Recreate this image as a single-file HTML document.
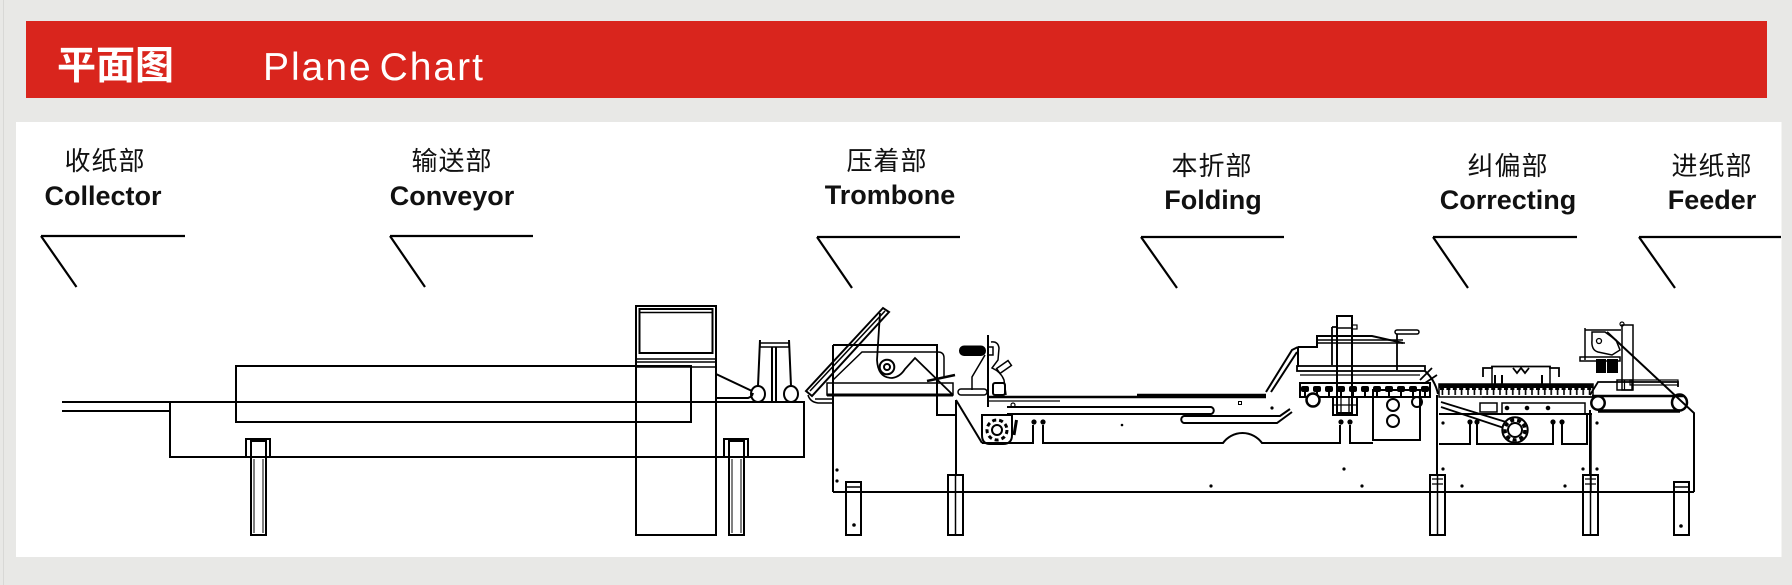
<!DOCTYPE html>
<html><head><meta charset="utf-8"><style>
html,body{margin:0;padding:0;background:#e8e8e6;}
svg{display:block;}
</style></head><body>
<svg width="1792" height="585" viewBox="0 0 1792 585" xmlns="http://www.w3.org/2000/svg">
<defs>
<pattern id="comb" x="1439" y="384" width="6.4" height="14" patternUnits="userSpaceOnUse">
<rect x="0" y="0" width="6.4" height="4" fill="#000"/>
<rect x="1" y="4" width="4" height="2" fill="#000"/>
<rect x="2.6" y="6" width="1.6" height="5" fill="#000"/>
</pattern>
<pattern id="chainf" x="1300" y="383" width="12" height="14" patternUnits="userSpaceOnUse">
<rect x="1" y="3" width="8" height="6" rx="2" fill="#000"/>
<rect x="4" y="9" width="2" height="4" fill="#000"/>
</pattern>
</defs>
<rect width="1792" height="585" fill="#e8e8e6"/>
<line x1="3.5" y1="0" x2="3.5" y2="585" stroke="#d8d8d6" stroke-width="1"/>
<!-- header -->
<rect x="26" y="21" width="1741" height="77" fill="#d9251d"/>
<text x="57" y="79" font-family="'Liberation Sans','Noto Sans CJK SC',sans-serif" font-weight="bold" font-size="39" fill="#fff">平面图</text>
<text x="263" y="80" font-family="'Liberation Sans',sans-serif" font-size="39" fill="#fff" letter-spacing="2" word-spacing="-6">Plane Chart</text>
<!-- panel -->
<rect x="16" y="122" width="1765.5" height="435" fill="#fff"/>

<!-- labels -->
<g font-family="'Liberation Sans','Noto Sans CJK SC',sans-serif" fill="#111" text-anchor="middle">
<g font-size="26" letter-spacing="1">
<text x="105" y="170">收纸部</text>
<text x="452" y="170">输送部</text>
<text x="887" y="170">压着部</text>
<text x="1212" y="175">本折部</text>
<text x="1508" y="175">纠偏部</text>
<text x="1712" y="175">进纸部</text>
</g>
<g font-size="27" font-weight="bold">
<text x="103" y="205">Collector</text>
<text x="452" y="205">Conveyor</text>
<text x="890" y="204">Trombone</text>
<text x="1213" y="209">Folding</text>
<text x="1508" y="209">Correcting</text>
<text x="1712" y="209">Feeder</text>
</g>
</g>
<g stroke="#000" stroke-width="2.2" fill="none">
<path d="M41 236 H185 M41 236 L76.5 287"/>
<path d="M390 236 H533 M390 236 L425 287"/>
<path d="M817 237 H960 M817 237 L852 288"/>
<path d="M1141 237 H1284 M1141 237 L1177 288"/>
<path d="M1433 237 H1577 M1433 237 L1468 288"/>
<path d="M1639 237 H1781 M1639 237 L1675 288"/>
</g>

<!-- machine drawing -->
<g stroke="#000" stroke-width="2" fill="none">
<!-- collector / conveyor -->
<path d="M62 402 H804 M62 411 H170"/>
<rect x="170" y="402" width="634" height="55"/>
<rect x="236" y="366" width="455" height="56"/>
<rect x="636" y="306" width="80" height="229"/>
<rect x="639.5" y="309" width="73" height="44"/>
<path d="M640 312.5 H712" stroke-width="1.5"/>
<path d="M636 359 H716 M636 362 H716" stroke-width="1.5"/>
<path d="M636 367 H716" stroke-width="1.5"/>
<path d="M716 374 L752 391 M716 398 H748 Q752 397 753 393"/>
<ellipse cx="758" cy="394" rx="7" ry="8"/>
<ellipse cx="791" cy="394" rx="7" ry="8"/>
<path d="M760 340 L758 386 M789 340 L791 386"/>
<rect x="760" y="343" width="29" height="4" stroke-width="1.5"/>
<path d="M772 347 V402 M776 347 V402"/>
<!-- legs -->
<rect x="246" y="439" width="24" height="18"/>
<rect x="251" y="441" width="15" height="94"/>
<path d="M254 459 V533 M263 459 V533" stroke-width="1"/>
<rect x="724" y="439" width="24" height="18"/>
<rect x="729" y="441" width="15" height="94"/>
<path d="M732 459 V533 M741 459 V533" stroke-width="1"/>

<!-- trombone -->
<path d="M833 345 V492 M833 345 H937 V415 H956"/>
<path d="M833 492 H1694"/>
<rect x="846" y="482" width="15" height="53"/>
<path d="M846 487 H861" stroke-width="1.5"/>
<path d="M806 391 L883 308 L889 312 L812 396 Z" stroke-width="2"/>
<path d="M810 391 L885 311" stroke-width="1.5"/>
<path d="M808 395 Q810 402 818 403 H834 M815 399 H834" stroke-width="1.5"/>
<path d="M833 380 L862 352 H938 Q944 352 944 358 V377" stroke-width="1.5"/>
<circle cx="887" cy="367" r="7.3"/>
<circle cx="887" cy="367" r="3"/>
<path d="M880 313 L877 360 Q878 378 892 378 Q900 377 905 369 L915 358 L953 395" stroke-width="1.8"/>
<rect x="827" y="383" width="126" height="12" stroke-width="1.5"/>
<path d="M827 395 H953" stroke-width="3"/>
<path d="M927 381 L955 375" stroke-width="2.5"/>
<!-- trombone right -->
<path d="M988 335 V407"/>
<rect x="960" y="346.5" width="25" height="8.5" rx="4" fill="#000"/>
<rect x="988" y="347" width="5" height="8" stroke-width="1.5"/>
<path d="M991 342 Q998 341 999 348 L998 360 L992 368 Q1001 372 1004 380 L1006 395" stroke-width="1.5"/>
<rect x="993" y="383" width="12" height="12" rx="2"/>
<rect x="997" y="364" width="14" height="6" transform="rotate(-35 1004 367)" stroke-width="1.5"/>
<path d="M985 355 L972 377 V390" stroke-width="1.5"/>
<rect x="958" y="389" width="29" height="6" rx="3" stroke-width="1.5"/>
<circle cx="1013" cy="405" r="2" stroke-width="1.2"/>
<path d="M956 400 V475"/>
<rect x="948" y="475" width="15" height="60"/>
<path d="M955.5 475 V535" stroke-width="1.5"/>

<!-- folding -->
<path d="M987 397 H1266" stroke-width="2.5"/>
<path d="M1137 395 H1266" stroke-width="2.5"/>
<path d="M987 401 H1060" stroke-width="1.2"/>
<path d="M1007 407 H1211 A3.6 3.6 0 0 1 1211 414 H1007"/>
<path d="M1290 409 L1280 416 H1184 A3.6 3.6 0 0 0 1184 423 H1277 L1292 412"/>
<path d="M956 400 L982 443"/>
<path d="M982 443 H1033 V425 M1043 425 V443 H1223 A24 24 0 0 1 1262 443 H1340 V425 M1350 425 V443 H1373"/>
<circle cx="1034" cy="422" r="1.6" fill="#000"/>
<circle cx="1043" cy="422" r="1.6" fill="#000"/>
<circle cx="1341" cy="422" r="1.6" fill="#000"/>
<circle cx="1350" cy="422" r="1.6" fill="#000"/>
<path d="M982 415 H1012 V435 Q1012 444 1003 444 H990 Q982 444 982 435 Z"/>
<circle cx="997" cy="430" r="10" stroke-width="3" stroke-dasharray="4 3"/>
<circle cx="997" cy="430" r="5"/>
<path d="M1014 435 L1016.5 420" stroke-width="3"/>
<rect x="1238.5" y="401.5" width="3" height="3" stroke-width="1"/>
<!-- folding frame -->
<path d="M1266 392 L1292 350 L1298 347 M1271 392 L1297 352"/>
<path d="M1298 347 V367 M1298 347 H1317 V336 H1372 L1403 343"/>
<path d="M1317 340 H1403 M1317 343 H1405" stroke-width="1.5"/>
<rect x="1337" y="316" width="15" height="97"/>
<rect x="1337" y="316" width="15" height="12" stroke-width="1.5"/>
<rect x="1352" y="325" width="5" height="4" stroke-width="1.2"/>
<path d="M1332 327 V365 M1332 327 H1337" stroke-width="1.8"/>
<rect x="1395" y="330" width="24" height="4" rx="2" stroke-width="1.5"/>
<path d="M1397 334 V370" stroke-width="1.8"/>
<rect x="1297" y="366" width="128" height="5" stroke-width="1.8"/>
<path d="M1300 375 H1420" stroke-width="1.2"/>
<rect x="1300" y="383" width="130" height="14" fill="url(#chainf)" stroke-width="2"/>
<circle cx="1313" cy="400" r="6.5" stroke-width="2.5" fill="#fff"/>
<rect x="1333" y="397" width="24" height="18"/>
<path d="M1341 397 V415 M1349 397 V415 M1333 405 H1357" stroke-width="1.3"/>
<rect x="1373" y="390" width="47" height="50"/>
<circle cx="1393" cy="405" r="6"/>
<circle cx="1393" cy="421" r="6"/>
<circle cx="1417" cy="402" r="5"/>
<path d="M1420 380 L1432 368 M1425 383 L1437 375" stroke-width="1.8"/>
<path d="M1425 371 Q1435 380 1438 394"/>
<path d="M1437 395 V475"/>
<rect x="1430" y="475" width="15" height="60"/>
<path d="M1437.5 475 V535" stroke-width="1.5"/>
<path d="M1432 479 H1443 M1432 484 H1443" stroke-width="1.2"/>

<!-- correcting -->
<rect x="1439" y="384" width="154" height="13" fill="url(#comb)" stroke-width="1.5"/>
<path d="M1483 377 V368 H1492 V366.5 H1550 V368 H1559 V377" stroke-width="1.8"/>
<path d="M1492 366.5 V385 M1550 366.5 V385" stroke-width="1.5"/>
<path d="M1513 368 L1517 373 L1521 368 L1525 373 L1529 368" stroke-width="1.8"/>
<path d="M1495 375 V384 M1502 375 V384 M1542 375 V384" stroke-width="2"/>
<rect x="1502" y="403" width="83" height="11" stroke-width="1.5"/>
<circle cx="1507" cy="408" r="1.3" fill="#000"/>
<circle cx="1527" cy="408" r="1.3" fill="#000"/>
<circle cx="1548" cy="408" r="1.3" fill="#000"/>
<path d="M1482 397 H1592" stroke-width="1.5"/>
<path d="M1439 414 H1592"/>
<path d="M1441 402 L1506 422 M1441 407 L1504 428" stroke-width="1.8"/>
<rect x="1480" y="403" width="17" height="9" stroke-width="1.5" fill="#fff"/>
<circle cx="1515" cy="430" r="12.7" stroke-width="2" fill="#fff"/>
<circle cx="1515" cy="430" r="10" stroke-width="3.5" stroke-dasharray="4 3"/>
<circle cx="1515" cy="430" r="7"/>
<path d="M1439 444 H1470 V422 M1477 422 V444 H1553 V422 M1562 422 V444 H1587 V414"/>
<circle cx="1470" cy="422" r="1.6" fill="#000"/>
<circle cx="1477" cy="422" r="1.6" fill="#000"/>
<circle cx="1553" cy="422" r="1.6" fill="#000"/>
<circle cx="1562" cy="422" r="1.6" fill="#000"/>
<path d="M1590 410 V475"/>
<rect x="1583" y="475" width="15" height="60"/>
<path d="M1590.5 475 V535" stroke-width="1.5"/>
<path d="M1585 479 H1596 M1585 484 H1596" stroke-width="1.2"/>

<!-- feeder -->
<path d="M1592 396 H1683" stroke-width="2.5"/>
<path d="M1598 411 H1680" stroke-width="3.5"/>
<circle cx="1598" cy="403" r="6.7" stroke-width="2.5"/>
<ellipse cx="1679.5" cy="402.5" rx="7.5" ry="8" stroke-width="2.5"/>
<path d="M1590 395 L1598 382 H1678 V387" stroke-width="1.8"/>
<rect x="1630" y="380" width="48" height="5" stroke-width="1.2"/>
<path d="M1585 328 V360 M1585 330 H1621" stroke-width="1.5"/>
<rect x="1622" y="325" width="11" height="65" stroke-width="1.5"/>
<circle cx="1622" cy="324" r="2" stroke-width="1.2"/>
<path d="M1592 332 L1605 332 L1616 340 L1620 350 L1612 355 L1598 352 Q1591 350 1592 340 Z" stroke-width="1.5"/>
<circle cx="1599" cy="341" r="2.5" stroke-width="1.3"/>
<rect x="1580" y="357" width="40" height="4" stroke-width="1.5"/>
<rect x="1597" y="360" width="8" height="12" fill="#000"/>
<rect x="1608" y="360" width="9" height="12" fill="#000"/>
<rect x="1617" y="380" width="15" height="10" stroke-width="1.5"/>
<path d="M1624.5 380 V390" stroke-width="1.2"/>
<path d="M1607 332 L1694 413 V492"/>
<path d="M1591 413 V492" stroke-width="1.5"/>
<rect x="1674" y="482" width="15" height="53"/>
<path d="M1674 487 H1689" stroke-width="1.5"/>
</g>
<!-- dots -->
<g fill="#000">
<circle cx="837" cy="470" r="1.6"/>
<circle cx="837" cy="481" r="1.6"/>
<circle cx="854" cy="525" r="1.8"/>
<circle cx="1681" cy="526" r="1.8"/>
<circle cx="1443" cy="423" r="1.6"/>
<circle cx="1597" cy="423" r="1.6"/>
<circle cx="1443" cy="469" r="1.6"/>
<circle cx="1583" cy="469" r="1.6"/>
<circle cx="1597" cy="469" r="1.6"/>
<circle cx="1462" cy="486" r="1.6"/>
<circle cx="1565" cy="486" r="1.6"/>
<circle cx="1272" cy="408" r="1.6"/>
<circle cx="1122" cy="425" r="1.3"/>
<circle cx="1344" cy="469" r="1.6"/>
<circle cx="1362" cy="486" r="1.6"/>
<circle cx="1211" cy="486" r="1.6"/>
</g>
</svg>
</body></html>
